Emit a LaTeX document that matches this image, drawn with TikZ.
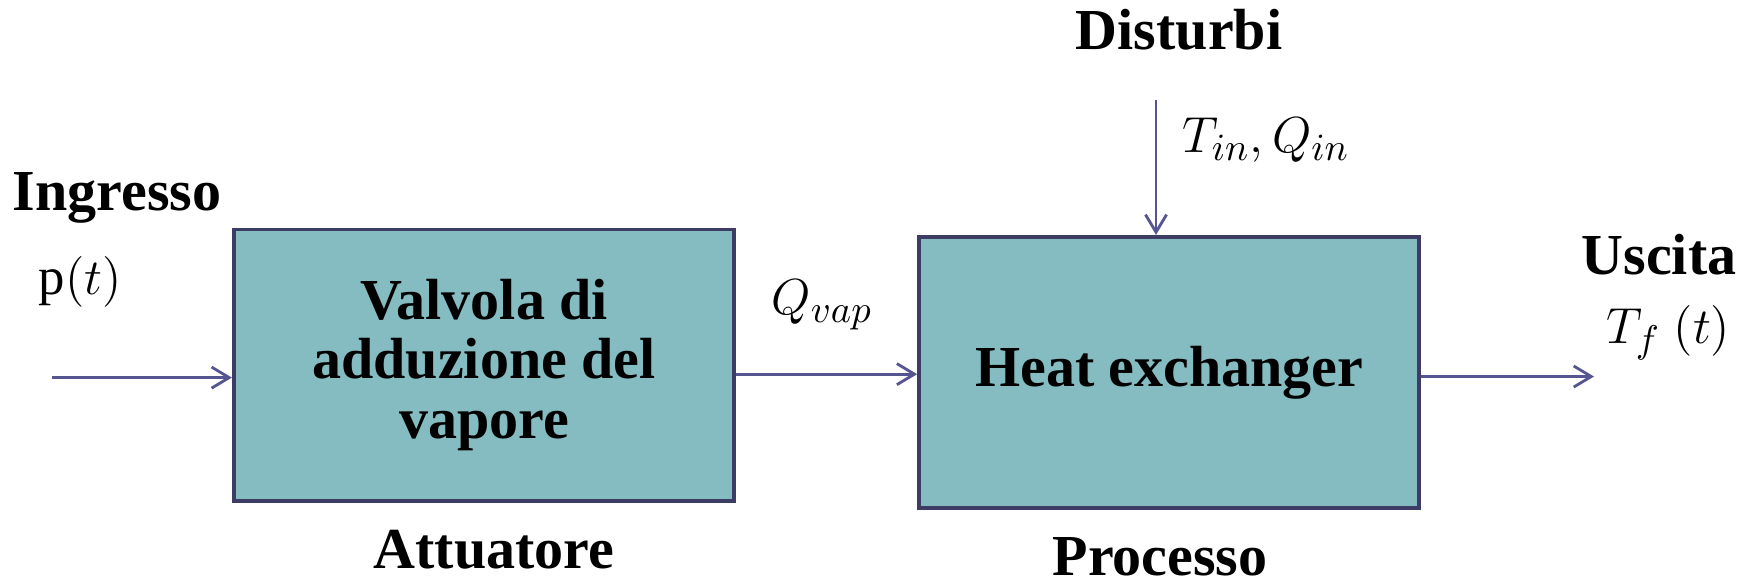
\documentclass[tikz,border=0pt]{standalone}
\usepackage{fontspec}
\setmainfont{Liberation Serif}
\usetikzlibrary{arrows.meta,positioning}
\definecolor{boxfill}{RGB}{132,188,193}
\definecolor{boxline}{RGB}{60,60,100}
\definecolor{arrowline}{RGB}{85,85,145}

\begin{document}
\begin{tikzpicture}[
  x=0.01cm, y=-0.01cm,
  box/.style={draw=boxline, line width=1.1pt, fill=boxfill, align=center, minimum width=5cm, minimum height=2.71cm, inner sep=0pt, font=\fontsize{16.5}{17}\selectfont\bfseries},
  lbl/.style={font=\fontsize{16.5}{18}\selectfont\bfseries, inner sep=0pt},
  sig/.style={font=\fontsize{15}{18}\selectfont, inner sep=0pt, anchor=west},
  arrow/.style={-{Straight Barb[length=5pt,width=6pt]}, line width=0.8pt, color=arrowline}
]
\useasboundingbox (0,0) rectangle (1752,587);
\node[box] (valvola) at (484,365) {Valvola di\\adduzione del\\vapore};
\node[box, right=1.81cm of valvola, yshift=-2.1pt] (scambiatore) {Heat exchanger};
\node[lbl] (ingresso) at (117,198) {Ingresso};
\node[sig] (pt) at (38,282) {$\mathrm{p}(t)$};
\node[lbl] (disturbi) at (1179,30) {Disturbi};
\node[sig] (tqin) at (1182,140) {$T_{in}, Q_{in}$};
\node[sig] (qvap) at (771,305) {$Q_{vap}$};
\node[lbl] (uscita) at (1659,255) {Uscita};
\node[sig] (tf) at (1606,333) {$T_f\ (t)$};
\node[lbl] (attuatore) at (494,550) {Attuatore};
\node[lbl] (processo) at (1160,557) {Processo};
\coordinate (in) at (52,377.6);
\coordinate (dist) at (1156,100);
\coordinate (out) at (1594,376.5);
\draw[arrow] (in) -- (in -| valvola.west);
\draw[arrow] ([yshift=-2.6pt]valvola.east) -- ([yshift=-2.6pt]valvola.east -| scambiatore.west);
\draw[arrow] (dist) -- (dist |- scambiatore.north);
\draw[arrow] (out -| scambiatore.east) -- (out);
\end{tikzpicture}
\end{document}
